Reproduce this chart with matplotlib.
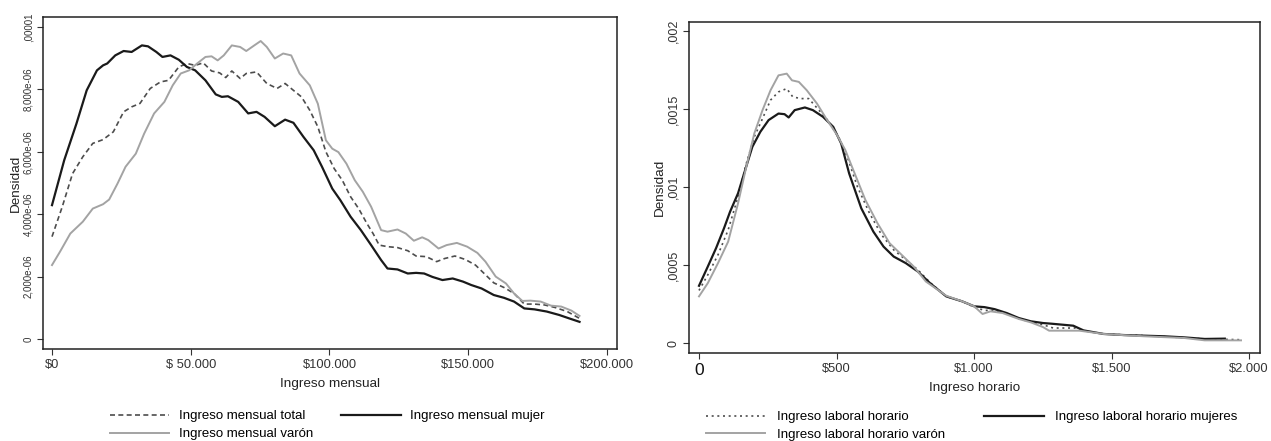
import matplotlib.pyplot as plt

plt.rcParams['font.family'] = ['Liberation Sans', 'DejaVu Sans']

# --- ingreso mensual (pesos, en miles) / densidad (x 1e-6) ---
mes_mujer_x = [0, 4.4, 8.8, 12.5, 16.2, 18.4, 19.9, 22.8, 25.8, 28.7, 32.4, 34.6, 37.6, 39.8,
               42.7, 45.7, 48.6, 51.6, 55.3, 59.0, 61.2, 63.4, 67.1, 70.7, 73.7, 76.6, 80.3,
               84.0, 87.0, 90.6, 94.3, 97.3, 101.0, 103.9, 107.6, 111.3, 115.0, 118.6, 120.9,
               124.5, 128.2, 131.2, 134.1, 137.1, 140.7, 144.4, 148.1, 151.1, 154.8, 159.2,
               162.9, 166.5, 170.2, 173.9, 178.3, 182.8, 186.4, 190.1]
mes_mujer_y = [4.29, 5.73, 6.9, 7.97, 8.61, 8.77, 8.83, 9.09, 9.23, 9.2, 9.41, 9.38, 9.2, 9.04,
               9.09, 8.95, 8.72, 8.61, 8.29, 7.84, 7.76, 7.78, 7.6, 7.23, 7.28, 7.12, 6.82,
               7.03, 6.93, 6.48, 6.05, 5.52, 4.82, 4.45, 3.92, 3.49, 3.01, 2.53, 2.26,
               2.23, 2.1, 2.12, 2.1, 1.99, 1.89, 1.94, 1.84, 1.73, 1.62, 1.41,
               1.32, 1.2, 0.98, 0.95, 0.88, 0.77, 0.66, 0.55]

mes_varon_x = [0, 2.9, 6.6, 11.1, 14.7, 18.4, 20.6, 23.6, 26.5, 30.2, 33.2, 36.8, 40.5, 43.5,
               46.4, 49.4, 52.3, 55.3, 57.5, 59.7, 61.9, 64.8, 67.8, 70.0, 72.9, 75.2, 77.4,
               80.3, 83.3, 86.2, 89.2, 92.9, 95.8, 98.7, 101.0, 103.2, 106.1, 109.1, 112.0,
               115.0, 118.6, 120.9, 124.5, 127.5, 130.4, 133.4, 135.6, 139.3, 142.2, 145.9,
               149.6, 153.3, 156.2, 159.9, 163.6, 166.5, 169.5, 172.4, 176.1, 179.8, 183.5,
               187.2, 190.1]
mes_varon_y = [2.37, 2.8, 3.38, 3.76, 4.18, 4.32, 4.47, 4.98, 5.52, 5.94, 6.58, 7.23, 7.6, 8.13,
               8.51, 8.61, 8.83, 9.04, 9.06, 8.93, 9.09, 9.41, 9.36, 9.23, 9.41, 9.55, 9.36,
               8.99, 9.15, 9.09, 8.51, 8.13, 7.54, 6.37, 6.1, 5.99, 5.62, 5.09, 4.72,
               4.24, 3.49, 3.44, 3.51, 3.38, 3.15, 3.26, 3.17, 2.9, 3.01, 3.08,
               2.96, 2.76, 2.48, 2.0, 1.78, 1.46, 1.22, 1.23, 1.2, 1.07, 1.04,
               0.91, 0.74]

mes_total_x = [0, 3.7, 7.4, 11.1, 14.7, 18.4, 22.1, 25.8, 28.7, 31.7, 35.4, 39.1, 42.0, 45.7,
               48.6, 51.6, 54.5, 57.5, 60.4, 62.6, 64.8, 67.8, 70.0, 73.7, 77.4, 81.1, 84.0,
               87.0, 89.9, 92.9, 95.8, 98.7, 101.7, 104.6, 107.6, 110.5, 113.5, 115.7, 117.9,
               120.9, 124.5, 128.2, 131.2, 134.9, 138.6, 141.5, 145.2, 148.9, 152.6, 155.5,
               159.2, 162.9, 166.5, 170.2, 173.9, 177.6, 181.3, 185.7, 190.1]
mes_total_y = [3.28, 4.24, 5.3, 5.84, 6.27, 6.39, 6.64, 7.28, 7.44, 7.55, 8.03, 8.24, 8.29, 8.72,
               8.83, 8.77, 8.85, 8.59, 8.53, 8.38, 8.59, 8.35, 8.51, 8.56, 8.19, 8.03, 8.19,
               7.97, 7.76, 7.33, 6.8, 6.0, 5.46, 5.09, 4.56, 4.18, 3.7, 3.38, 3.01,
               2.96, 2.93, 2.83, 2.66, 2.64, 2.48, 2.58, 2.66, 2.55, 2.37, 2.12,
               1.8, 1.65, 1.46, 1.12, 1.12, 1.09, 1.01, 0.88, 0.66]

# --- ingreso horario (pesos) / densidad (x 1e-3) ---
hor_mujer_x = [0, 32, 62, 91, 113, 142, 164, 194, 223, 253, 289, 311, 326, 348, 385, 414, 451,
               488, 517, 546, 590, 634, 671, 708, 752, 796, 840, 899, 957, 1001, 1038, 1075,
               1119, 1163, 1207, 1251, 1280, 1324, 1361, 1398, 1471, 1545, 1618, 1692, 1765,
               1839, 1912]
hor_mujer_y = [0.367, 0.49, 0.608, 0.736, 0.842, 0.96, 1.087, 1.258, 1.354, 1.429, 1.471, 1.467,
               1.446, 1.493, 1.51, 1.493, 1.45, 1.386, 1.279, 1.087, 0.864, 0.714, 0.618,
               0.554, 0.512, 0.458, 0.384, 0.299, 0.267, 0.235, 0.23, 0.217, 0.192, 0.16,
               0.139, 0.128, 0.124, 0.117, 0.111, 0.081, 0.058, 0.051, 0.047, 0.043, 0.036,
               0.026, 0.028]

hor_varon_x = [0, 32, 69, 106, 142, 172, 201, 231, 260, 289, 319, 338, 363, 392, 429, 466, 502,
               532, 561, 605, 649, 693, 737, 781, 825, 899, 957, 1001, 1031, 1060, 1104, 1163,
               1207, 1251, 1273, 1324, 1383, 1471, 1618, 1765, 1839, 1971]
hor_varon_y = [0.299, 0.384, 0.512, 0.65, 0.896, 1.13, 1.343, 1.493, 1.62, 1.716, 1.727, 1.684,
               1.674, 1.62, 1.535, 1.429, 1.333, 1.237, 1.109, 0.917, 0.768, 0.64, 0.565, 0.49,
               0.394, 0.303, 0.267, 0.235, 0.186, 0.203, 0.192, 0.154, 0.132, 0.102, 0.079,
               0.079, 0.079, 0.058, 0.043, 0.032, 0.017, 0.017]

hor_total_x = [0, 32, 69, 106, 142, 172, 201, 231, 260, 289, 319, 341, 370, 399, 436, 473, 510,
               539, 576, 620, 664, 708, 752, 796, 840, 899, 957, 1001, 1038, 1075, 1119, 1163,
               1207, 1251, 1288, 1368, 1398, 1471, 1618, 1765, 1839, 1971]
hor_total_y = [0.337, 0.437, 0.565, 0.725, 0.938, 1.151, 1.322, 1.439, 1.557, 1.61, 1.631, 1.578,
               1.567, 1.567, 1.493, 1.418, 1.311, 1.194, 1.002, 0.832, 0.693, 0.597, 0.533,
               0.469, 0.388, 0.299, 0.267, 0.23, 0.209, 0.209, 0.188, 0.156, 0.134, 0.117,
               0.096, 0.096, 0.079, 0.058, 0.047, 0.034, 0.026, 0.021]

mes_xticks = [0, 50000, 100000, 150000, 200000]
mes_xlabels = ['$0', '$ 50.000', '$100.000', '$150.000', '$200.000']
mes_yticks = [0, 2e-6, 4e-6, 6e-6, 8e-6, 1e-5]
mes_ylabels = ['0', '2,000e-06', '4,000e-06', '6,000e-06', '8,000e-06', ',00001']

hor_xticks = [0, 500, 1000, 1500, 2000]
hor_xlabels = ['0', '$500', '$1.000', '$1.500', '$2.000']
hor_yticks = [0, 0.0005, 0.001, 0.0015, 0.002]
hor_ylabels = ['0', ',0005', ',001', ',0015', ',002']

BLACK = '#1a1a1a'
GRAY = '#a3a3a3'
DASH = '#4d4d4d'
W, H = 1271, 441

fig = plt.figure(figsize=(W / 100, H / 100), dpi=100)
ax1 = fig.add_axes([43 / W, 1 - 349 / H, (617 - 43) / W, (349 - 17) / H])
ax2 = fig.add_axes([689 / W, 1 - 353 / H, (1260 - 689) / W, (353 - 22) / H])


def style_axis(ax, xt, xl, yt, yl, xlabel, ysize, xpad):
    ax.set_xticks(xt)
    ax.set_xticklabels(xl, fontsize=9.3, color='#333333')
    ax.set_yticks(yt)
    ax.set_yticklabels(yl, fontsize=ysize, color='#333333', rotation=90, va='center')
    ax.tick_params(direction='out', length=4, width=0.8, color='#333333', pad=3)
    for s in ax.spines.values():
        s.set_linewidth(1.1)
        s.set_color('#222222')
    ax.set_xlabel(xlabel, fontsize=9.7, color='#222222', labelpad=xpad)
    ax.set_ylabel('Densidad', fontsize=9.7, color='#222222', labelpad=1)


# panel izquierdo
x = [v * 1000 for v in mes_total_x]
h_tot, = ax1.plot(x, [v * 1e-6 for v in mes_total_y], color=DASH, lw=1.2,
                  dashes=(3, 2), label='Ingreso mensual total')
x = [v * 1000 for v in mes_mujer_x]
h_muj, = ax1.plot(x, [v * 1e-6 for v in mes_mujer_y], color=BLACK, lw=1.6,
                  label='Ingreso mensual mujer')
x = [v * 1000 for v in mes_varon_x]
h_var, = ax1.plot(x, [v * 1e-6 for v in mes_varon_y], color=GRAY, lw=1.4,
                  label='Ingreso mensual varón')
ax1.set_xlim(-3243, 203604)
ax1.set_ylim(-0.32e-6, 1.032e-5)
style_axis(ax1, mes_xticks, mes_xlabels, mes_yticks, mes_ylabels, 'Ingreso mensual', 7.0, 5)

fig.legend([h_tot, h_var, h_muj], [h_tot.get_label(), h_var.get_label(), h_muj.get_label()],
           ncol=2, loc='upper left', bbox_to_anchor=(110 / W, 1 - 410 / H), frameon=False,
           fontsize=9.5, handlelength=4.5, handletextpad=0.75, columnspacing=2.1,
           labelspacing=0.45, borderaxespad=0, borderpad=0)

# panel derecho
h2_tot, = ax2.plot(hor_total_x, [v * 1e-3 for v in hor_total_y], color=DASH, lw=1.2,
                   dashes=(1.2, 2.2), label='Ingreso laboral horario')
h2_muj, = ax2.plot(hor_mujer_x, [v * 1e-3 for v in hor_mujer_y], color=BLACK, lw=1.6,
                   label='Ingreso laboral horario mujeres')
h2_var, = ax2.plot(hor_varon_x, [v * 1e-3 for v in hor_varon_y], color=GRAY, lw=1.4,
                   label='Ingreso laboral horario varón')
ax2.set_xlim(-36.4, 2040)
ax2.set_ylim(-0.0000641, 0.002058)
style_axis(ax2, hor_xticks, hor_xlabels, hor_yticks, hor_ylabels, 'Ingreso horario', 9, 3)
ax2.get_xticklabels()[0].set_fontsize(12.5)
ax2.get_xticklabels()[0].set_color('#111111')

fig.legend([h2_tot, h2_var, h2_muj], [h2_tot.get_label(), h2_var.get_label(), h2_muj.get_label()],
           ncol=2, loc='upper left', bbox_to_anchor=(706 / W, 1 - 411 / H), frameon=False,
           fontsize=9.5, handlelength=4.5, handletextpad=0.85, columnspacing=3.0,
           labelspacing=0.4, borderaxespad=0, borderpad=0)

fig.savefig('out.png', dpi=100)
